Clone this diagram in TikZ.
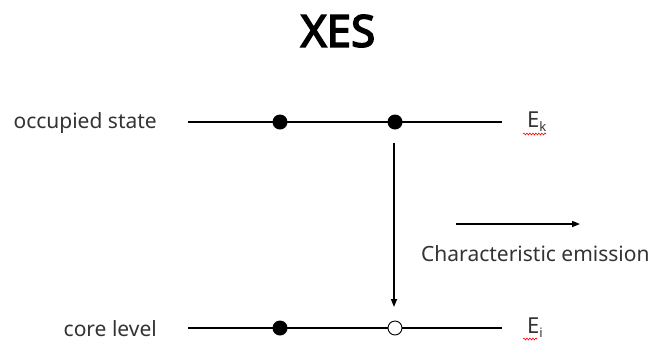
\documentclass[tikz,border=0pt]{standalone}
\usepackage{fontspec}
\setmainfont{Noto Sans}
\newfontfamily\titlefont{Noto Sans}[FakeBold=3.6]
\usetikzlibrary{arrows.meta,decorations.pathmorphing}
\begin{document}
\begin{tikzpicture}[x=1pt,y=-1pt,
  level/.style={line width=1.6pt},
  filled/.style={circle,fill=black,inner sep=0pt,minimum size=15pt},
  hole/.style={circle,draw=black,fill=white,line width=0.9pt,inner sep=0pt,minimum size=14pt},
  label/.style={font=\fontsize{21}{25}\selectfont,text=black!80,inner sep=0pt},
  energy/.style={font=\fontsize{22}{26}\selectfont,text=black!80,inner sep=0pt,anchor=west},
  arr/.style={line width=1.6pt,-{Triangle[length=8pt,width=6pt]}},
  squiggle/.style={red,line width=0.6pt,decorate,decoration={snake,amplitude=0.9pt,segment length=3pt}}]
\useasboundingbox (0,0) rectangle (656,341);

% title
\node[font=\titlefont\fontsize{44}{50}\selectfont,inner sep=0pt] (title) at (338,31) {XES};

% occupied state level
\coordinate (ks) at (188,122);
\coordinate (ke) at (502,122);
\draw[level] (ks) -- (ke);
\node[filled] (k1) at (280,122) {};
\node[filled] (k2) at (395,122) {};
\node[label,anchor=east] (occ) at (157,123) {occupied state};
\node[energy] (Ek) at (527,122) {E\raisebox{-0.35ex}{\fontsize{13}{14}\selectfont k}};
\draw[squiggle] (523,134) -- (546,134);

% core level
\coordinate (is) at (188,328);
\coordinate (ie) at (502,328);
\draw[level] (is) -- (ie);
\node[filled] (i1) at (280,328) {};
\node[hole] (i2) at (395,328) {};
\node[label,anchor=east] (core) at (157,329) {core level};
\node[energy] (Ei) at (527,328) {E\raisebox{-0.35ex}{\fontsize{13}{14}\selectfont i}};
\draw[squiggle] (523,339) -- (537,339);

% transition from occupied state into the core hole
\coordinate (t0) at (394,143);
\coordinate (t1) at (394,307);
\draw[arr] (t0) -- (t1);

% emitted photon
\coordinate (p0) at (456,224);
\coordinate (p1) at (580,224);
\draw[arr] (p0) -- (p1);
\node[label,anchor=west] (emis) at (421,254) {Characteristic emission};
\end{tikzpicture}
\end{document}
